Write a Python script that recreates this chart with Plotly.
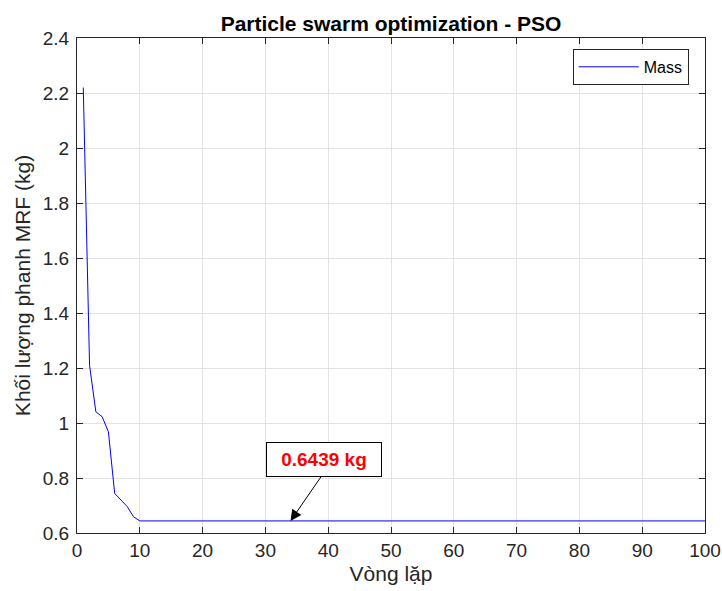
import plotly.graph_objects as go

iterations = list(range(1, 101))
mass = [2.22, 1.21, 1.041, 1.023, 0.968, 0.744, 0.72, 0.696, 0.659, 0.6439] + [0.6439] * 90
x_ticks = list(range(0, 101, 10))
y_ticks = [0.6, 0.8, 1.0, 1.2, 1.4, 1.6, 1.8, 2.0, 2.2, 2.4]
best_label = "0.6439 kg"
best_x = 34
best_y = 0.6439

FONT = "Liberation Sans, Arial, Helvetica, sans-serif"
AX = "#262626"

fig = go.Figure()
fig.add_trace(go.Scatter(x=iterations, y=mass, mode="lines", name="Mass",
                         line=dict(color="#0000ff", width=1)))

axis_common = dict(showline=True, linecolor=AX, linewidth=1, mirror="ticks",
                   ticks="inside", ticklen=6, tickcolor=AX, tickwidth=1,
                   showgrid=True, gridcolor="#e3e3e3", gridwidth=1, zeroline=False,
                   automargin=False,
                   tickfont=dict(family=FONT, size=19, color=AX))

fig.update_layout(
    width=722, height=591,
    margin=dict(l=77, r=17, t=38, b=58, autoexpand=False),
    paper_bgcolor="white", plot_bgcolor="white",
    title=dict(text="<b>Particle swarm optimization - PSO</b>", x=0.5, xanchor="center",
               xref="paper", y=1, yref="paper", yanchor="bottom", pad=dict(b=7),
               font=dict(family=FONT, size=21, color="black")),
    xaxis=dict(range=[0, 100], tickvals=x_ticks,
               title=dict(text="Vòng lặp", font=dict(family=FONT, size=21, color=AX), standoff=6),
               **axis_common),
    yaxis=dict(range=[0.6, 2.4], tickvals=y_ticks, ticklabelstandoff=3,
               title=dict(text="Khối lượng phanh MRF (kg)", font=dict(family=FONT, size=21, color=AX), standoff=6),
               **axis_common),
    showlegend=True,
    legend=dict(x=0.974, xanchor="right", y=0.978, yanchor="top",
                bordercolor=AX, borderwidth=1, bgcolor="white",
                font=dict(family=FONT, size=16, color="black"), itemwidth=60,
                tracegroupgap=0),
)

# text box
fig.add_annotation(x=39.4, y=0.868, xref="x", yref="y", text="<b>" + best_label + "</b>",
                   showarrow=False, font=dict(family=FONT, size=19, color="red"),
                   bordercolor="black", borderwidth=1, bgcolor="white",
                   width=112, height=31)
# arrow
fig.add_annotation(x=best_x, y=best_y, xref="x", yref="y", text="",
                   ax=39.1, ay=0.8125, axref="x", ayref="y",
                   showarrow=True, arrowhead=2, arrowsize=2.2, arrowwidth=1, arrowcolor="black")

fig.write_html("out.html", config={"displayModeBar": False},
               post_script="document.body.style.margin='0px';")
